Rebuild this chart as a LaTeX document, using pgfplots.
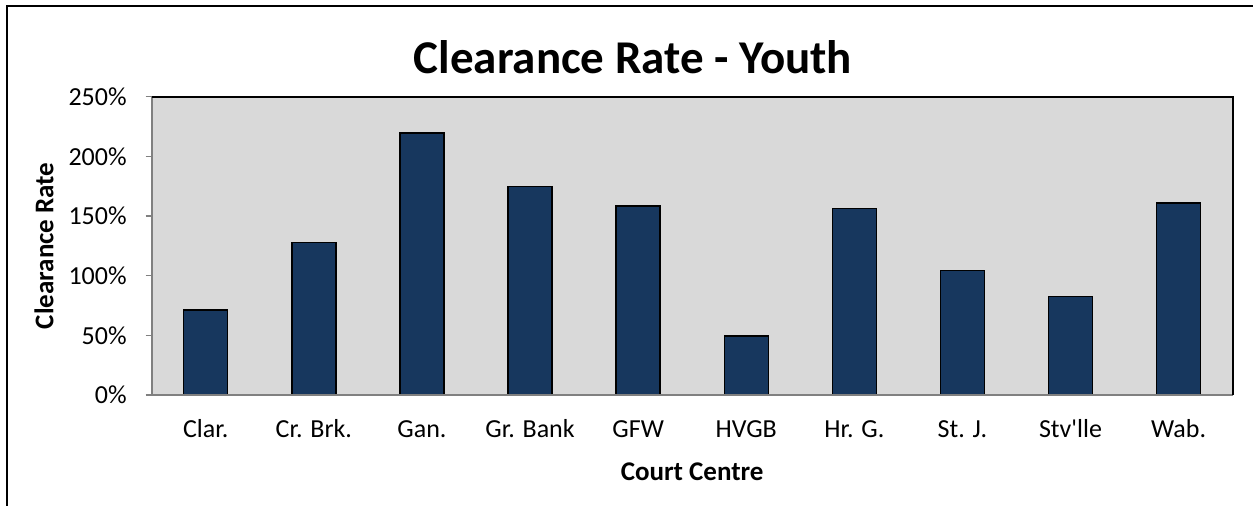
\documentclass[border=0pt]{standalone}
\usepackage{fontspec}
\setmainfont{Carlito}
\usepackage{pgfplots}
\pgfplotsset{compat=1.18}
\definecolor{barblue}{HTML}{17375E}
\definecolor{plotgrey}{HTML}{D9D9D9}
\definecolor{axgrey}{HTML}{808080}
\begin{document}
\begin{tikzpicture}
\useasboundingbox (0,0) rectangle (626.5pt,253pt);
\draw[black, line width=1.1pt] (3.5pt,-2pt) -- (3.5pt,250pt) -- (630pt,250pt);
\node[anchor=base, font=\fontsize{23.5}{28}\selectfont\bfseries] at (316.5pt,216pt) {Clearance Rate - Youth};
\begin{axis}[
  at={(75.85pt,55.5pt)}, anchor=south west,
  scale only axis, width=540.5pt, height=149.15pt,
  xmin=-0.5, xmax=9.5, ymin=0, ymax=250,
  ybar, bar width=22pt,
  axis background/.style={fill=plotgrey},
  axis line style={draw=none},
  xtick=data,
  xticklabels={Clar., Cr. Brk., Gan., Gr. Bank, GFW, HVGB, Hr. G., St. J., Stv\textquotesingle lle, Wab.},
  xtick style={draw=none},
  ytick={0,50,100,150,200,250},
  ytick pos=left,
  yticklabel={\pgfmathprintnumber{\tick}\%},
  /pgf/number format/assume math mode=true,
  ytick style={draw=axgrey, line width=0.8pt},
  tick align=outside, major tick length=3pt,
  ticklabel style={font=\fontsize{13}{15.6}\selectfont},
  yticklabel style={xshift=-6pt},
  xticklabel style={yshift=-7pt, text height=1.6ex, text depth=0.3ex},
  xlabel={Court Centre}, ylabel={Clearance Rate},
  label style={font=\fontsize{13.5}{16}\selectfont\bfseries},
  xlabel style={at={(axis description cs:0.5,-0.258)}, anchor=center},
  ylabel style={at={(axis description cs:-0.0996,0.5)}, anchor=center},
  clip=false,
]
\addplot[fill=barblue, draw=black, line width=0.75pt] coordinates {
  (0,71.4) (1,127.7) (2,219.5) (3,174.7) (4,158.2)
  (5,49.3) (6,156.2) (7,104.4) (8,82.6) (9,160.7)
};
\draw[axgrey, line width=1pt] (rel axis cs:0,1) -- (rel axis cs:0,0) -- (rel axis cs:1,0);
\draw[black, line width=1pt] (rel axis cs:0,1) -- (rel axis cs:1,1) -- (rel axis cs:1,0);
\end{axis}
\end{tikzpicture}
\end{document}
